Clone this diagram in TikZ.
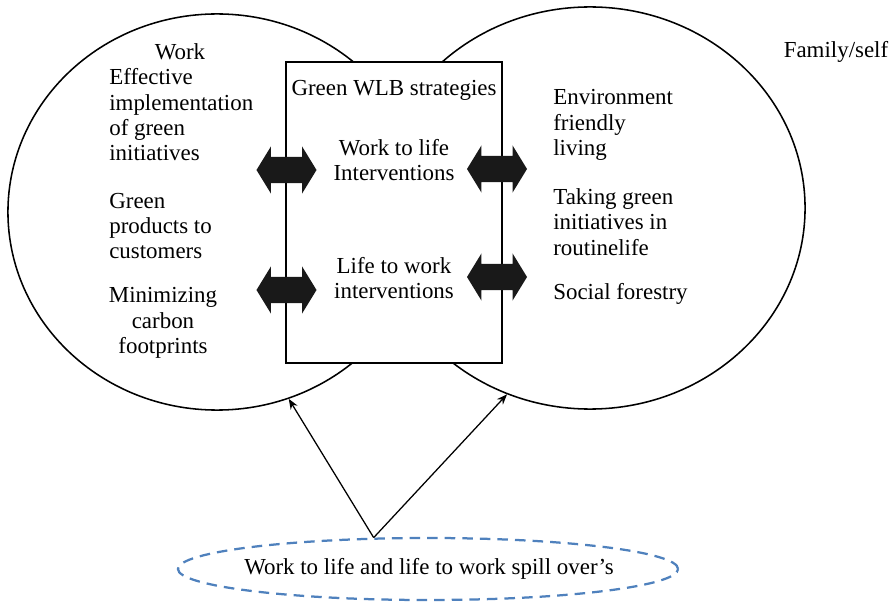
\documentclass[tikz,border=0pt]{standalone}
\usepackage{fontspec}
\setmainfont{Liberation Serif}
\usetikzlibrary{shapes.geometric,shapes.arrows,arrows.meta}
\definecolor{spillblue}{RGB}{79,129,189}

\begin{document}
\begin{tikzpicture}[
        x=0.025cm, y=-0.025cm,
        every node/.style={font=\fontsize{16.3}{18}\selectfont},
        lifedomain/.style={draw,ellipse,line width=1.1pt,inner sep=0pt},
        wlbbox/.style={draw,fill=white,line width=1.3pt,inner sep=0pt,
            minimum width=5.4cm,minimum height=7.525cm},
        twoway/.style={double arrow,fill=black!90,inner sep=0pt,
            text height=0.625cm,text depth=0pt,minimum height=1.5cm,
            double arrow head extend=0.2625cm,double arrow tip angle=117},
        spillover/.style={draw=spillblue,ellipse,line width=1.6pt,
            dash pattern=on 7.5pt off 5pt,inner sep=0pt,
            minimum width=12.5cm,minimum height=1.55cm},
        every path/.append style={line width=0.9pt}
    ]
        \useasboundingbox (0,0) rectangle (892,602);

        % the two domains and the strategy box over their overlap
        \node [lifedomain,minimum width=10.45cm,minimum height=9.9cm]  (work)   at (217,212) {};
        \node [lifedomain,minimum width=10.75cm,minimum height=10.05cm] (family) at (590,208) {};
        \node [wlbbox] (wlb) at (394,212.5) {};

        \node (worktitle)   at (180,52)  {Work};
        \node (familytitle) at (836,52)  {Family/self};
        \node (wlbtitle)    at (394,90)  {Green WLB strategies};

        % work side
        \node [align=left,anchor=west] (effective) at (104,115) {Effective\\implementation\\of green\\initiatives};
        \node [align=left,anchor=west] (products)  at (104,226) {Green\\products to\\customers};
        \node [align=center]           (carbon)    at (163,323) {Minimizing\\carbon\\footprints};

        % family side
        \node [align=left,anchor=west] (living)   at (548,125) {Environment\\friendly\\living};
        \node [align=left,anchor=west] (routine)  at (548,222) {Taking green\\initiatives in\\routinelife};
        \node [align=left,anchor=west] (forestry) at (548,294) {Social forestry};

        % interventions
        \node [align=center] (worktolife) at (394,160) {Work to life\\Interventions};
        \node [align=center] (lifetowork) at (394,278) {Life to work\\interventions};

        \node [twoway] (wl-left)  at (286.5,170) {};
        \node [twoway] (lw-left)  at (286.5,290) {};
        \node [twoway] (wl-right) at (497,169) {};
        \node [twoway] (lw-right) at (497,277) {};

        % spill over
        \node [spillover] (spill) at (428,569) {};
        \node (spilltext) at (429,569) {Work to life and life to work spill over's};
        \draw [-{Stealth[length=0.26cm,width=0.2cm]}] (spill.150) -- (work.-69);
        \draw [-{Stealth[length=0.26cm,width=0.2cm]}] (spill.150) -- (family.-114);
    \end{tikzpicture}
\end{document}
